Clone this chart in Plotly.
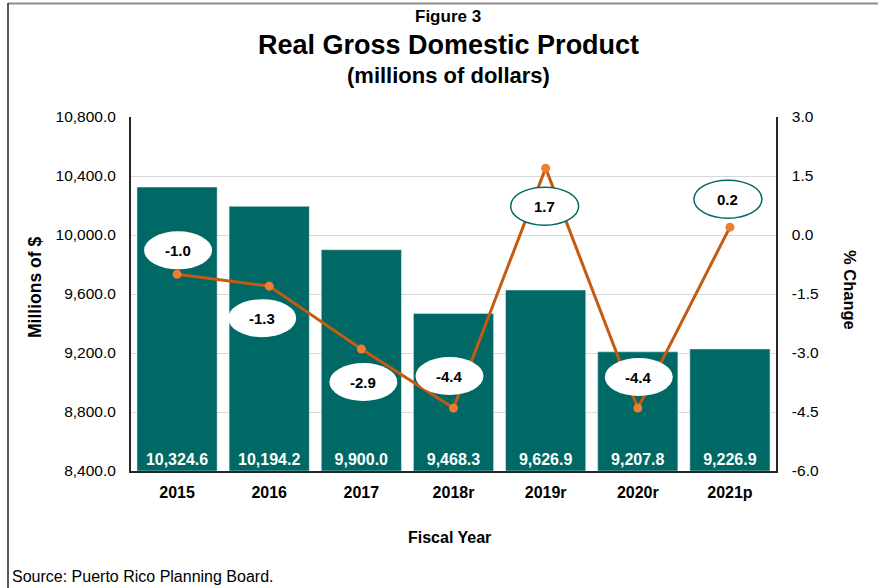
# Real GDP figure: bars (millions $) + line (% change) with ellipse labels
import plotly.graph_objects as go

years = ['2015', '2016', '2017', '2018r', '2019r', '2020r', '2021p']
gdp_millions = [10324.6, 10194.2, 9900.0, 9468.3, 9626.9, 9207.8, 9226.9]
pct_change = [-1.0, -1.3, -2.9, -4.4, 1.7, -4.4, 0.2]

y1_ticks = [8400, 8800, 9200, 9600, 10000, 10400, 10800]
y2_ticks = [-6.0, -4.5, -3.0, -1.5, 0.0, 1.5, 3.0]

# label placement (pixel offsets from each point) - style only
label_dx = [1, -7, 2, -4, -1, 1, -2]
label_dy = [24, -32, -33, 32, -38, 31, 28]
label_border = [False, False, False, False, True, False, True]

W, H = 878, 588
L, R, T, B = 131, 776, 117, 471
bar_color = '#006965'
font_fam = 'Arial, Liberation Sans, sans-serif'
base = y1_ticks[0]


def px(x):
    return (x - L) / (R - L)


def py(y):
    return (B - y) / (B - T)


fig = go.Figure()
fig.add_trace(go.Bar(
    x=years, y=[v - base for v in gdp_millions], base=base,
    marker=dict(color=bar_color),
    text=[f'{v:,.1f}' for v in gdp_millions],
    textposition='inside', insidetextanchor='start', textangle=0,
    textfont=dict(color='white', size=16, family=font_fam, weight='bold'),
    cliponaxis=False, yaxis='y'))
fig.add_trace(go.Scatter(
    x=years, y=pct_change, mode='lines+markers', yaxis='y2',
    line=dict(color='#c55a11', width=3),
    marker=dict(color='#ed7d31', size=9)))

shapes = []
annotations = []
for i, v in enumerate(pct_change):
    cx, cy = label_dx[i], label_dy[i]
    shapes.append(dict(type='circle', xref='x', yref='y2',
                       xsizemode='pixel', ysizemode='pixel',
                       xanchor=i, yanchor=v,
                       x0=cx - 34, x1=cx + 34, y0=cy - 19, y1=cy + 19,
                       fillcolor='white',
                       line=dict(color=bar_color if label_border[i] else 'rgba(0,0,0,0)',
                                 width=1.5)))
    annotations.append(dict(x=i, y=v, xref='x', yref='y2', xshift=cx, yshift=cy,
                            text=f'{v:.1f}', showarrow=False,
                            font=dict(size=15, color='black', family=font_fam, weight='bold')))

# frame of the figure
shapes.append(dict(type='line', xref='paper', yref='paper', x0=px(8), x1=px(W + 2),
                   y0=py(3.5), y1=py(3.5), line=dict(color='#8c8c8c', width=2), layer='above'))
shapes.append(dict(type='line', xref='paper', yref='paper', x0=px(8), x1=px(8),
                   y0=py(3), y1=py(H + 2), line=dict(color='#262626', width=1.5), layer='above'))

texts = [
    ('Figure 3', 448, 17, 17, 0),
    ('Real Gross Domestic Product', 448, 45, 27, 0),
    ('(millions of dollars)', 448, 75, 22, 0),
    ('Fiscal Year', 449, 537, 16, 0),
    ('Millions of $', 35, 288, 17.5, -90),
    ('% Change', 850, 290, 16.5, 90),
]
for t, x, y, s, ang in texts:
    annotations.append(dict(text=t, x=px(x), y=py(y), xref='paper', yref='paper',
                            showarrow=False, textangle=ang, xanchor='center', yanchor='middle',
                            font=dict(size=s, color='black', family=font_fam, weight='bold')))
annotations.append(dict(text='Source: Puerto Rico Planning Board.', x=px(10), y=py(576),
                        xref='paper', yref='paper', showarrow=False, xanchor='left',
                        yanchor='middle', font=dict(size=16, color='black', family=font_fam)))

fig.update_layout(
    width=W, height=H,
    margin=dict(l=L, r=W - R, t=T, b=H - B, pad=0),
    paper_bgcolor='white', plot_bgcolor='white',
    showlegend=False, bargap=0.13,
    font=dict(family=font_fam, color='black', size=15.5),
    xaxis=dict(type='category', showline=True, linecolor='#262626', linewidth=2,
               tickfont=dict(size=16, weight='bold'), ticks='', ticklabelstandoff=6),
    yaxis=dict(range=[y1_ticks[0], y1_ticks[-1]], tickvals=y1_ticks,
               ticktext=[f'{v:,.1f}' for v in y1_ticks],
               showline=True, linecolor='#262626', linewidth=2,
               showgrid=True, gridcolor='#d9d9d9', gridwidth=1, zeroline=False,
               ticks='', ticklabelstandoff=10),
    yaxis2=dict(range=[y2_ticks[0], y2_ticks[-1]], tickvals=y2_ticks,
                ticktext=[f'{v:.1f}' for v in y2_ticks],
                overlaying='y', side='right', showline=True, linecolor='#262626',
                linewidth=1.5, showgrid=False, zeroline=False, ticks='',
                ticklabelstandoff=11),
    shapes=shapes, annotations=annotations,
)

fig.write_html('out.html', config={'displayModeBar': False},
               post_script="document.body.style.margin='0';document.body.style.overflow='hidden';")
